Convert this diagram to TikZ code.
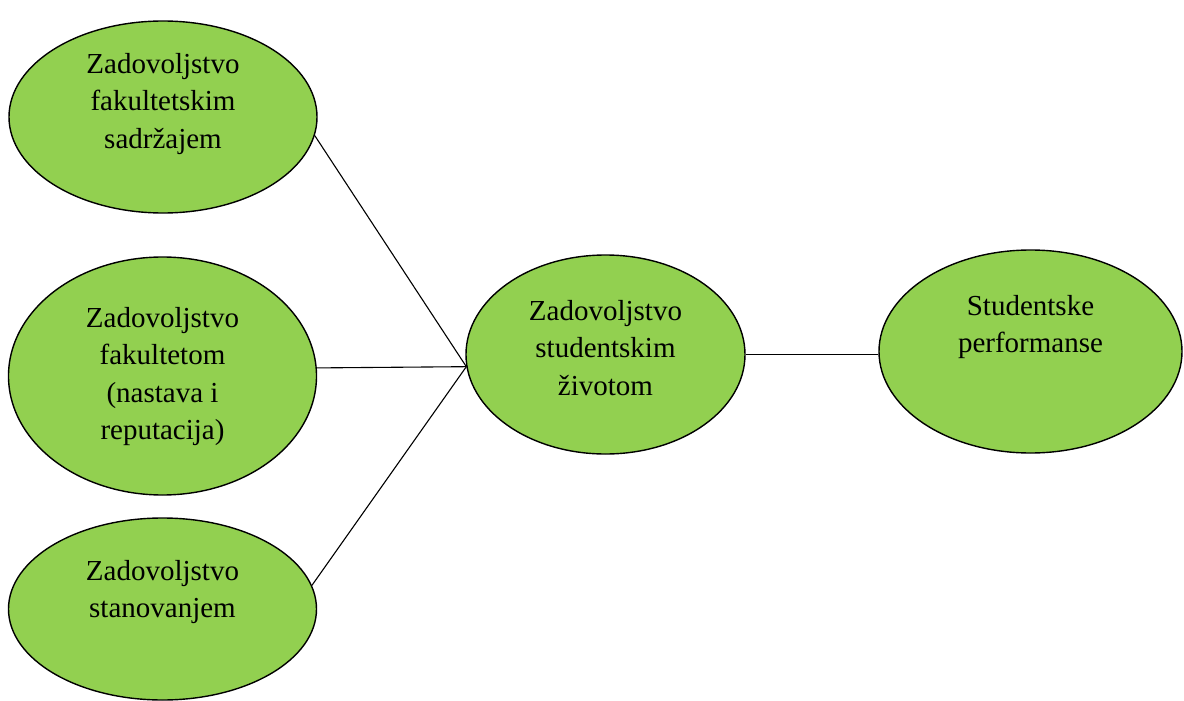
\documentclass[tikz,border=0pt]{standalone}
\usepackage{fontspec}
\setmainfont{Liberation Serif}
\usetikzlibrary{shapes.geometric}
\definecolor{bubble}{RGB}{146,208,80}
\begin{document}
\begin{tikzpicture}[x=1pt,y=-1pt,
  bubble/.style={ellipse,draw=black,line width=1.4pt,fill=bubble,inner sep=0pt},
  label/.style={anchor=north,align=center,inner sep=0pt,font=\fontsize{29}{37.5}\selectfont},
  link/.style={draw=black,line width=1.1pt}]
\useasboundingbox (0,0) rectangle (1184,701);
\fill[white] (0,0) rectangle (1184,701);
% ellipses
\node[bubble,minimum width=308pt,minimum height=192pt] (e1) at (163,117) {};
\node[bubble,minimum width=308pt,minimum height=238pt] (e2) at (162.5,376) {};
\node[bubble,minimum width=308pt,minimum height=182pt] (e3) at (162.5,609) {};
\node[bubble,minimum width=279pt,minimum height=199pt] (e4) at (605.5,354.5) {};
\node[bubble,minimum width=303pt,minimum height=203pt] (e5) at (1030.5,351.5) {};
% texts
\node[label] (t1) at (163,46.75) {\strut Zadovoljstvo\\fakultetskim\\sadržajem};
\node[label] (t2) at (162.5,300.75) {\strut Zadovoljstvo\\fakultetom\\(nastava i\\reputacija)};
\node[label] (t3) at (162.5,553.75) {\strut Zadovoljstvo\\stanovanjem};
\node[label] (t4) at (605.5,293.75) {\strut Zadovoljstvo\\studentskim\\životom};
\node[label] (t5) at (1030.5,288.75) {\strut Studentske\\performanse};
% connectors
\coordinate (c) at (e4.185);
\draw[link] (e1.-7) -- (c);
\draw[link] (e2.3) -- (c);
\draw[link] (e3.9) -- (c);
\draw[link] (e4.east) -- (e4.east -| e5.west);
\end{tikzpicture}
\end{document}
